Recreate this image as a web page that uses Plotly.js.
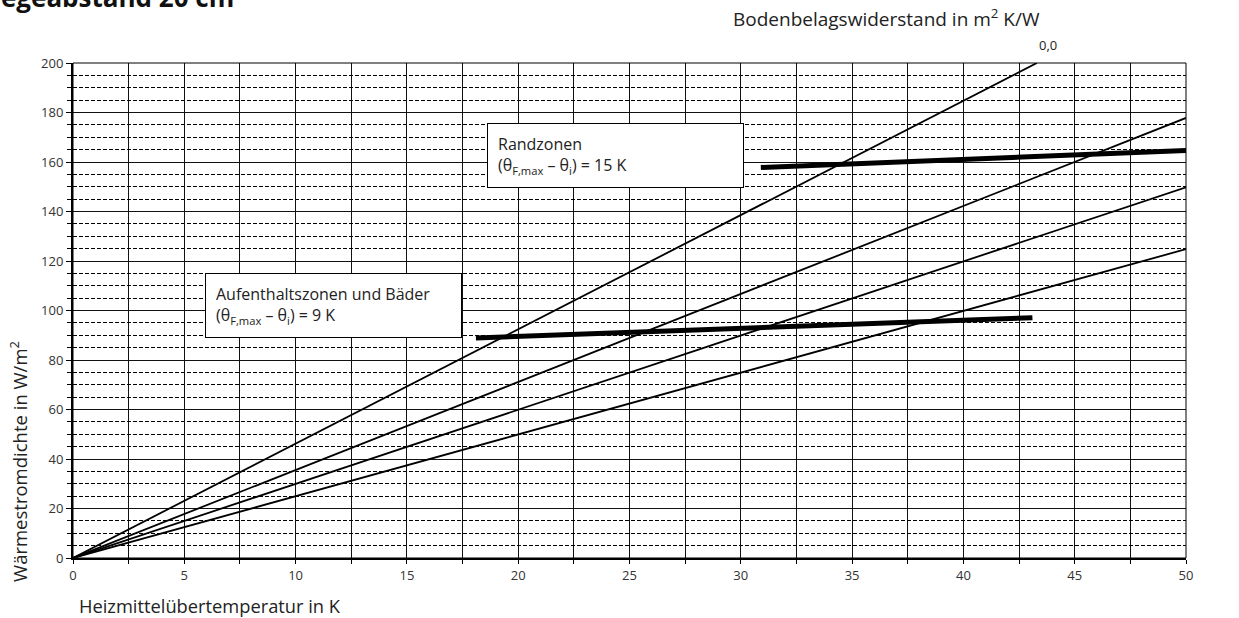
<!DOCTYPE html>
<html><head><meta charset="utf-8">
<script src="https://cdn.plot.ly/plotly-3.0.1.min.js"></script>
<style>html,body{margin:0;padding:0;background:#fff;}#chart{width:1239px;height:618px;}</style>
</head><body><div id="chart"></div>
<script>
// Data
const lineNames = ['0,0', '0,05', '0,10', '0,15'];
const lineX = [[0, 43.3], [0, 50], [0, 50], [0, 50]];
const lineY = [[0, 200], [0, 177.8], [0, 149.8], [0, 124.8]];
const randX = [30.9, 50];
const randY = [157.8, 164.6];
const aufX = [18.1, 43.1];
const aufY = [88.9, 97.1];
const xRange = [0, 50];
const yRange = [0, 200];

const FONT = '"Open Sans", "Noto Sans", sans-serif';
const TXT = '#222';

const traces = [];
for (let i = 0; i < lineNames.length; i++) {
  traces.push({x: lineX[i], y: lineY[i], mode: 'lines', name: lineNames[i],
    line: {color: '#000', width: 1.8}, hoverinfo: 'skip'});
}
traces.push({x: randX, y: randY, mode: 'lines', name: 'Randzonen', line: {color: '#000', width: 5}});
traces.push({x: aufX, y: aufY, mode: 'lines', name: 'Aufenthaltszonen', line: {color: '#000', width: 5}});

const layout = {
  width: 1239, height: 618,
  margin: {l: 73, r: 53, t: 63, b: 60},
  paper_bgcolor: '#fff', plot_bgcolor: '#fff',
  showlegend: false,
  font: {family: FONT, color: TXT, size: 13},
  xaxis: {
    range: xRange, tickmode: 'linear', tick0: 0, dtick: 5, ticks: 'outside', ticklen: 4, tickcolor: '#000',
    showgrid: true, gridcolor: '#111', gridwidth: 1, zeroline: false,
    showline: true, linecolor: '#000', linewidth: 2,
    tickfont: {size: 13, color: '#333', family: FONT},
    minor: {tickmode: 'linear', tick0: 0, dtick: 2.5, showgrid: true, gridcolor: '#111', gridwidth: 1, ticks: 'outside', ticklen: 4, tickcolor: '#000'}
  },
  yaxis: {
    range: yRange, tickmode: 'linear', tick0: 0, dtick: 20, ticks: 'outside', ticklen: 5, tickcolor: '#000',
    showgrid: true, gridcolor: '#111', gridwidth: 1, zeroline: false,
    showline: true, linecolor: '#000', linewidth: 2,
    tickfont: {size: 13, color: '#333', family: FONT},
    minor: {tickmode: 'linear', tick0: 0, dtick: 5, showgrid: true, gridcolor: '#000', gridwidth: 1, griddash: '4px,2px', ticks: 'outside', ticklen: 4, tickcolor: '#000'}
  },
  shapes: [
    {type: 'rect', xref: 'paper', yref: 'paper', x0: 0, x1: 1, y0: 0, y1: 1, line: {color: '#000', width: 1}}
  ],
  annotations: [
    {xref: 'paper', yref: 'paper', x: -0.0656, y: 1.094, xanchor: 'left', yanchor: 'bottom',
      text: '<b>egeabstand 20 cm</b>', showarrow: false, font: {size: 26, color: '#111', family: FONT}, borderpad: 0},
    {xref: 'paper', yref: 'paper', x: 0.591, y: 1.091, xanchor: 'left', yanchor: 'middle',
      text: 'Bodenbelagswiderstand in m<sup>2</sup> K/W', showarrow: false, font: {size: 19, color: TXT, family: FONT}},
    {xref: 'paper', yref: 'paper', x: 0.876, y: 1.036, xanchor: 'center', yanchor: 'middle', text: '0,0', showarrow: false, font: {size: 13, color: TXT, family: FONT}},
    {x: 50.55, y: 178, xanchor: 'left', yanchor: 'middle', text: '0,05', showarrow: false, font: {size: 13, color: TXT, family: FONT}},
    {x: 50.55, y: 150, xanchor: 'left', yanchor: 'middle', text: '0,10', showarrow: false, font: {size: 13, color: TXT, family: FONT}},
    {x: 50.55, y: 125, xanchor: 'left', yanchor: 'middle', text: '0,15', showarrow: false, font: {size: 13, color: TXT, family: FONT}},
    {x: 18.6, y: 175.9, xanchor: 'left', yanchor: 'top', align: 'left', valign: 'middle', showarrow: false,
      text: 'Randzonen<br>(θ<sub>F,max</sub> – θ<sub>i</sub>) = 15 K',
      font: {size: 16, color: TXT, family: FONT}, bgcolor: '#fff', bordercolor: '#000', borderwidth: 1, borderpad: 10,
      width: 235, height: 43},
    {x: 5.93, y: 115.0, xanchor: 'left', yanchor: 'top', align: 'left', valign: 'middle', showarrow: false,
      text: 'Aufenthaltszonen und Bäder<br>(θ<sub>F,max</sub> – θ<sub>i</sub>) = 9 K',
      font: {size: 16, color: TXT, family: FONT}, bgcolor: '#fff', bordercolor: '#000', borderwidth: 1, borderpad: 10,
      width: 235, height: 43},
    {xref: 'paper', yref: 'paper', x: -0.049, y: 0.195, xanchor: 'center', yanchor: 'middle', textangle: -90,
      text: 'Wärmestromdichte in W/m<sup>2</sup>', showarrow: false, font: {size: 18.5, color: TXT, family: FONT}},
    {xref: 'paper', yref: 'paper', x: 0.004, y: -0.095, xanchor: 'left', yanchor: 'middle',
      text: 'Heizmittelübertemperatur in K', showarrow: false, font: {size: 18.3, color: TXT, family: FONT}}
  ]
};

Plotly.newPlot('chart', traces, layout, {displayModeBar: false, staticPlot: true});
</script>
</body></html>
